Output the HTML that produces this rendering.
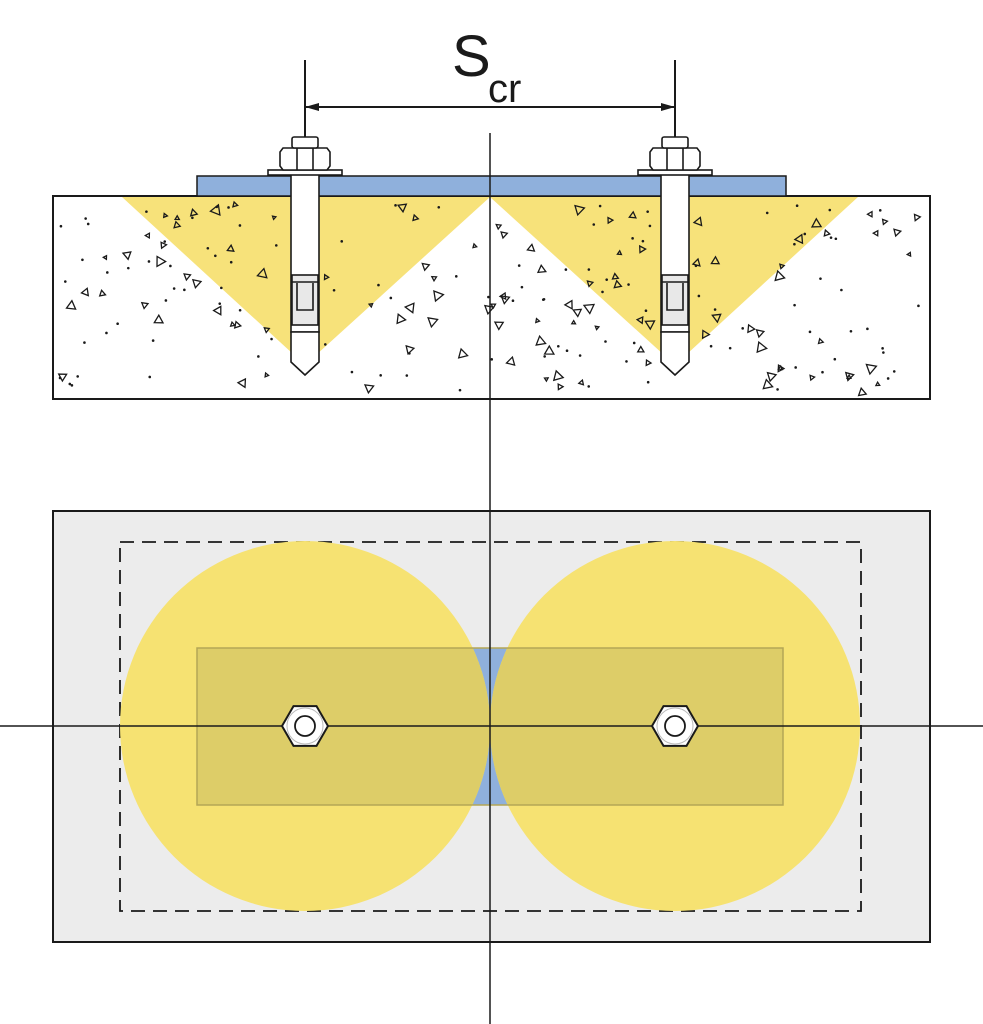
<!DOCTYPE html>
<html><head><meta charset="utf-8"><style>html,body{margin:0;padding:0;background:#fff}svg{display:block}</style></head>
<body>
<svg id="s" width="983" height="1024" viewBox="0 0 983 1024" xmlns="http://www.w3.org/2000/svg">
<defs>
<clipPath id="cc"><circle cx="305" cy="726" r="185"/><circle cx="675" cy="726" r="185"/></clipPath>
<marker id="ar" markerWidth="14" markerHeight="8" refX="14" refY="4" orient="auto" markerUnits="userSpaceOnUse"><path d="M0,0 L14,4 L0,8 z" fill="#1a1a1a"/></marker>
<marker id="al" markerWidth="14" markerHeight="8" refX="0" refY="4" orient="auto" markerUnits="userSpaceOnUse"><path d="M14,0 L0,4 L14,8 z" fill="#1a1a1a"/></marker>
</defs>
<!-- top section -->
<rect x="53" y="196" width="877" height="203" fill="#fff" stroke="#1a1a1a" stroke-width="2"/>
<polygon points="122,197 490,197 305,365" fill="#f7e27a"/>
<polygon points="490,197 858,197 675,365" fill="#f7e27a"/>
<g id="dots"></g>
<rect x="197" y="176" width="589" height="20" fill="#8fb0dc" stroke="#1a1a1a" stroke-width="1.5"/>
<g id="bolts"></g>
<!-- dimension -->
<line x1="305" y1="60" x2="305" y2="132" stroke="#1a1a1a" stroke-width="2"/>
<line x1="675" y1="60" x2="675" y2="132" stroke="#1a1a1a" stroke-width="2"/>
<line x1="305" y1="107" x2="675" y2="107" stroke="#1a1a1a" stroke-width="2" marker-start="url(#al)" marker-end="url(#ar)"/>
<text x="452" y="76" font-family="Liberation Sans, sans-serif" font-size="58" fill="#1a1a1a">S</text>
<text x="488" y="102" font-family="Liberation Sans, sans-serif" font-size="40" fill="#1a1a1a">cr</text>
<!-- bottom section -->
<rect x="53" y="511" width="877" height="431" fill="#ececec" stroke="#1a1a1a" stroke-width="2"/>
<rect x="120" y="542" width="741" height="369" fill="none" stroke="#1a1a1a" stroke-width="1.8" stroke-dasharray="14,8"/>
<rect x="197" y="648" width="586" height="157" fill="#8fb0dc"/>
<circle cx="305" cy="726" r="185" fill="#f6e272"/>
<circle cx="675" cy="726" r="185" fill="#f6e272"/>
<rect x="197" y="648" width="586" height="157" fill="#ddcd68" clip-path="url(#cc)"/>
<rect x="197" y="648" width="586" height="157" fill="none" stroke="#b4a656" stroke-width="1.5"/>
<line x1="0" y1="726" x2="983" y2="726" stroke="#1a1a1a" stroke-width="1.5"/>
<line x1="490" y1="133" x2="490" y2="1024" stroke="#1a1a1a" stroke-width="1.5"/>
<g id="nuts"></g>
</svg>
<script>
var NS="http://www.w3.org/2000/svg";
function el(p,t,a){var e=document.createElementNS(NS,t);for(var k in a)e.setAttribute(k,a[k]);p.appendChild(e);return e;}
var seed=7;function r(){seed=(seed*16807)%2147483647;return seed/2147483647;}
var d=document.getElementById("dots");
for(var i=0;i<230;i++){var x=60+r()*862,y=203+r()*190;
 if(Math.abs(x-305)<18||Math.abs(x-675)<18)continue;
 var s=2+r()*4,a=r()*6.28,pts=[];
 for(var j=0;j<3;j++){pts.push((x+s*Math.cos(a+j*2.094)).toFixed(1)+","+(y+s*Math.sin(a+j*2.094)).toFixed(1));}
 if(r()<0.5)el(d,"polygon",{points:pts.join(" "),fill:"none",stroke:"#1a1a1a","stroke-width":1.3});
 else el(d,"circle",{cx:x,cy:y,r:1.3,fill:"#1a1a1a"});}
var b=document.getElementById("bolts");
[305,675].forEach(function(c){
 var g=el(b,"g",{stroke:"#1a1a1a","stroke-width":1.6,fill:"#fff"});
 el(g,"rect",{x:c-14,y:172,width:28,height:160});
 el(g,"rect",{x:c-13,y:275,width:26,height:50,fill:"#e8e8e8"});
 el(g,"path",{d:"M"+(c-8)+",283 L"+(c-8)+",310 L"+(c+8)+",310 L"+(c+8)+",283",fill:"none"});
 el(g,"line",{x1:c-14,y1:282,x2:c+14,y2:282});
 el(g,"line",{x1:c-14,y1:338,x2:c+14,y2:338});
 el(g,"polygon",{points:(c-14)+",332 "+(c+14)+",332 "+(c+14)+",362 "+c+",375 "+(c-14)+",362"});
 el(g,"rect",{x:c-37,y:170,width:74,height:5});
 el(g,"polygon",{points:(c-22)+",148 "+(c+22)+",148 "+(c+25)+",152 "+(c+25)+",166 "+(c+22)+",170 "+(c-22)+",170 "+(c-25)+",166 "+(c-25)+",152"});
 el(g,"line",{x1:c-8,y1:148,x2:c-8,y2:170});el(g,"line",{x1:c+8,y1:148,x2:c+8,y2:170});
 el(g,"rect",{x:c-13,y:137,width:26,height:11,rx:2});
 el(b,"line",{x1:c,y1:132,x2:c,y2:137,stroke:"#1a1a1a","stroke-width":2});
});
var n=document.getElementById("nuts");
[305,675].forEach(function(c){
 var pts=[];for(var j=0;j<6;j++){var a=j*Math.PI/3;pts.push((c+23*Math.cos(a)).toFixed(1)+","+(726+23*Math.sin(a)).toFixed(1));}
 el(n,"polygon",{points:pts.join(" "),fill:"#fff",stroke:"#1a1a1a","stroke-width":2});
 el(n,"circle",{cx:c,cy:726,r:18,fill:"#fff",stroke:"#bbb","stroke-width":1});
 el(n,"circle",{cx:c,cy:726,r:10,fill:"#fff",stroke:"#1a1a1a","stroke-width":1.8});
});
</script>
</body></html>
